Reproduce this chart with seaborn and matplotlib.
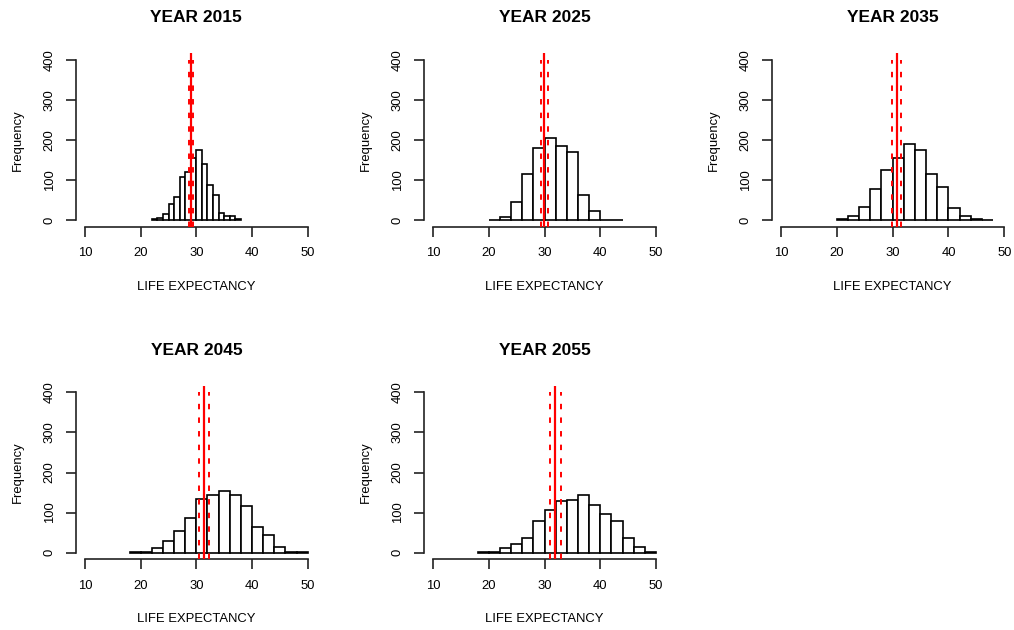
import numpy as np
import pandas as pd
import seaborn as sns
import matplotlib.pyplot as plt

# bin counts
years = [2015, 2025, 2035, 2045, 2055]
bin_start = [22, 20, 20, 18, 18]
bin_width = [1, 2, 2, 2, 2]
counts_2015 = [2, 4, 16, 39, 58, 108, 119, 154, 174, 141, 87, 62, 17, 10, 9, 2]
counts_2025 = [1, 8, 45, 114, 179, 204, 186, 171, 63, 23, 1, 1]
counts_2035 = [2, 10, 32, 77, 124, 154, 189, 174, 114, 83, 29, 9, 3, 1]
counts_2045 = [2, 1, 12, 28, 55, 86, 135, 145, 153, 143, 117, 65, 44, 15, 2, 1]
counts_2055 = [1, 2, 11, 21, 37, 79, 107, 128, 131, 145, 118, 97, 79, 36, 13, 2]
all_counts = [counts_2015, counts_2025, counts_2035, counts_2045, counts_2055]

# red reference lines: centre (solid) and interval (dashed)
centre = [29.0, 29.9, 30.7, 31.4, 31.9]
lower = [28.7, 29.3, 29.95, 30.4, 30.9]
upper = [29.4, 30.6, 31.5, 32.3, 33.0]

sns.set_style('ticks')
plt.rcParams['font.family'] = ['Liberation Sans', 'DejaVu Sans']
plt.rcParams['text.color'] = 'black'
plt.rcParams['axes.labelcolor'] = 'black'

W, H = 1014, 630
fig = plt.figure(figsize=(W / 100, H / 100), dpi=100)

# panel boxes in pixels: left, right, top, bottom
cols = [(76.1, 316.6), (424.1, 664.9), (772.1, 1013.2)]
rows = [(53.3, 226.5), (385.9, 559.1)]

for i, yr in enumerate(years):
    l, r = cols[i % 3]
    t, b = rows[i // 3]
    ax = fig.add_axes([l / W, 1 - b / H, (r - l) / W, (b - t) / H])
    h = b - t

    counts = all_counts[i]
    edges = [bin_start[i] + bin_width[i] * k for k in range(len(counts) + 1)]
    df = pd.DataFrame({'x': [e + bin_width[i] / 2 for e in edges[:-1]], 'n': counts})
    sns.histplot(data=df, x='x', weights='n', bins=edges, ax=ax,
                 color='white', edgecolor='black', linewidth=1.2, alpha=1)

    ax.axvline(centre[i], color='red', lw=1.6, zorder=5)
    ax.vlines([lower[i], upper[i]], -16, 400, color='red', lw=1.4,
              linestyles=[(0, (2.8, 4.2))], zorder=5)

    ax.set_xlim(8.4, 51.6)
    ax.set_ylim(-16, 416)
    ax.set_xticks([10, 20, 30, 40, 50])
    ax.set_yticks([0, 100, 200, 300, 400])
    for side in ['top', 'right']:
        ax.spines[side].set_visible(False)
    ax.spines['bottom'].set_bounds(10, 50)
    ax.spines['left'].set_bounds(0, 400)
    for side in ['bottom', 'left']:
        ax.spines[side].set_color('#222222')
        ax.spines[side].set_linewidth(1.2)
    ax.tick_params(length=7.2, width=1.2, color='#222222', pad=7.5,
                   labelsize=9.4, labelcolor='black')
    for lab in ax.get_yticklabels():
        lab.set_rotation(90)
        lab.set_va('center')

    ax.set_xlabel('LIFE EXPECTANCY', fontsize=9.4)
    ax.xaxis.set_label_coords(0.5, -60 / h)
    ax.xaxis.label.set_va('center')
    ax.set_ylabel('Frequency', fontsize=9.4)
    ax.yaxis.set_label_coords(-58 / (r - l), 0.5)
    ax.yaxis.label.set_va('center')

    ax.text(0.5, 1 + 35.5 / h, f'YEAR {yr}', transform=ax.transAxes,
            ha='center', va='center', fontsize=12.5, fontweight='bold',
            color='black')

fig.savefig('out.png', dpi=100)
